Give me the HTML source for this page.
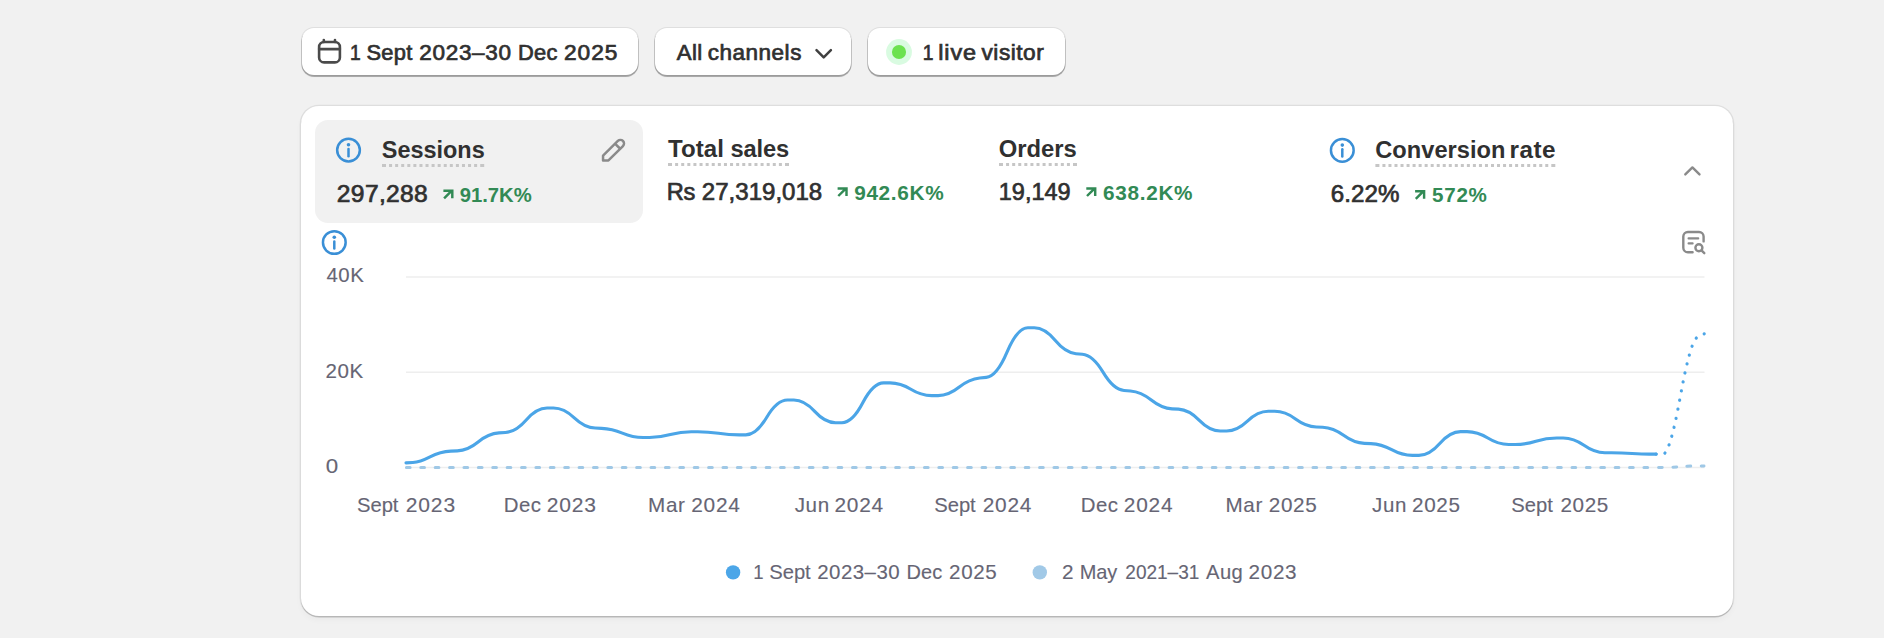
<!DOCTYPE html>
<html lang="en"><head><meta charset="utf-8"><title>Analytics</title>
<style>
html,body{margin:0;padding:0}
body{width:1884px;height:638px;background:#f1f1f1;position:relative;overflow:hidden;font-family:"Liberation Sans",sans-serif}
main,section,header,nav,button,figure,figcaption,ul,li,h2,p,.w{display:contents;margin:0;padding:0;font:inherit;list-style:none}
.t{position:absolute;white-space:nowrap;line-height:1.149;transform-origin:0 0}
.btn{position:absolute;top:28px;height:47px;background:#fff;border-radius:12px;box-shadow:0 0 0 1px rgba(0,0,0,.075),0 1.5px 0 .5px rgba(0,0,0,.26),0 2px 1.5px 0 rgba(0,0,0,.06)}
.card{position:absolute;left:301px;top:106px;width:1432px;height:510px;background:#fff;border-radius:18px;box-shadow:0 0 0 1.3px rgba(0,0,0,.065),0 0 3px 0 rgba(0,0,0,.04),0 1.5px 0 0 rgba(0,0,0,.15),0 4px 6px rgba(0,0,0,.03)}
.sel{position:absolute;left:315px;top:120px;width:328px;height:103px;background:#f1f1f1;border-radius:13px}
.ov{position:absolute;left:0;top:0}
.g{position:static}
</style></head><body>
<main>
<nav class="toolbar">
<button type="button"><span class="btn" style="left:302px;width:336px"></span><span class="g" style="font-size:21.50px;color:#303030;-webkit-text-stroke:0.70px #303030;"><span class="t" style="left:349px;top:41.00px;transform:translateX(0.90px) scaleX(0.8952);">1</span> <span class="t" style="left:366px;top:41.00px;transform:translateX(0.50px) scaleX(1.0165);letter-spacing:0.26px;">Sept</span> <span class="t" style="left:419px;top:41.00px;transform:translateX(0.35px) scaleX(1.0470);letter-spacing:0.64px;">2023–30</span> <span class="t" style="left:517px;top:41.00px;transform:translateX(0.95px) scaleX(1.0163);letter-spacing:0.27px;">Dec</span> <span class="t" style="left:564px;top:41.00px;transform:translateX(0.05px) scaleX(1.0556);letter-spacing:0.88px;">2025</span></span></button>
<button type="button"><span class="btn" style="left:655px;width:196px"></span><span class="g" style="font-size:21.50px;color:#303030;-webkit-text-stroke:0.70px #303030;"><span class="t" style="left:676px;top:41.00px;transform:translateX(0.70px) scaleX(1.0313);letter-spacing:0.39px;">All</span> <span class="t" style="left:707px;top:41.00px;transform:translateX(0.80px) scaleX(1.0446);letter-spacing:0.50px;">channels</span></span></button>
<button type="button"><span class="btn" style="left:868px;width:197px"></span><span class="g" style="font-size:21.50px;color:#303030;-webkit-text-stroke:0.70px #303030;"><span class="t" style="left:922px;top:41.00px;transform:translateX(0.75px) scaleX(0.8952);">1</span> <span class="t" style="left:938px;top:41.00px;transform:translateX(0.20px) scaleX(1.0911);letter-spacing:0.81px;">live</span> <span class="t" style="left:981px;top:41.00px;transform:translateX(0.50px) scaleX(1.0542);letter-spacing:0.49px;">visitor</span></span></button>
</nav>
<section class="metrics-card">
<div class="card"></div>
<div class="sel"></div>
<svg class="ov" width="1884" height="638" viewBox="0 0 1884 638">
<path d="M406 277.0 H1704.5" stroke="#eeeeee" stroke-width="1.6" fill="none"/>
<path d="M406 372.2 H1704.5" stroke="#eeeeee" stroke-width="1.6" fill="none"/>
<path d="M406 467.5 H1704.5" stroke="#eeeeee" stroke-width="1.6" fill="none"/>
<path d="M406.4 467.5 H1656 C1680 467.5 1680 465.9 1704 465.9" stroke="#9fc8e6" stroke-width="3" stroke-dasharray="3.7 10.69" stroke-linecap="round" fill="none"/>
<path d="M406.00 462.90 L412.85 462.56 Q419.70 462.22 430.04 456.89 L430.04 456.89 Q440.38 451.56 450.88 451.13 L457.28 450.87 Q467.78 450.44 478.12 441.97 L478.12 441.97 Q488.46 433.50 498.96 432.89 L505.37 432.51 Q515.87 431.90 526.20 419.95 L526.20 419.95 Q536.54 408.00 547.04 408.00 L553.45 408.00 Q563.95 408.00 574.29 417.83 L574.29 417.83 Q584.62 427.65 595.12 428.07 L601.53 428.33 Q612.03 428.75 622.37 433.12 L622.37 433.12 Q632.70 437.50 643.20 437.50 L649.61 437.50 Q660.11 437.50 670.45 434.60 L670.45 434.60 Q680.79 431.70 691.29 431.70 L697.69 431.70 Q708.19 431.70 718.53 433.30 L718.53 433.30 Q728.87 434.90 739.37 434.90 L745.77 434.90 Q756.27 434.90 766.61 417.45 L766.61 417.45 Q776.95 400.00 787.45 400.00 L793.86 400.00 Q804.36 400.00 814.69 411.35 L814.69 411.35 Q825.03 422.70 835.53 422.70 L841.94 422.70 Q852.44 422.70 862.77 402.80 L862.77 402.80 Q873.11 382.90 883.61 382.90 L890.02 382.90 Q900.52 382.90 910.86 389.25 L910.86 389.25 Q921.19 395.60 931.69 395.60 L938.10 395.60 Q948.60 395.60 958.94 387.28 L958.94 387.28 Q969.27 378.96 979.77 377.99 L986.18 377.41 Q996.68 376.44 1007.02 352.12 L1007.02 352.12 Q1017.36 327.80 1027.86 327.80 L1034.26 327.80 Q1044.76 327.80 1055.10 340.32 L1055.10 340.32 Q1065.44 352.83 1075.94 353.73 L1082.34 354.27 Q1092.84 355.17 1103.18 372.42 L1103.18 372.42 Q1113.52 389.68 1124.02 390.46 L1130.43 390.94 Q1140.93 391.72 1151.26 399.99 L1151.26 399.99 Q1161.60 408.25 1172.10 408.83 L1178.51 409.17 Q1189.01 409.75 1199.34 420.37 L1199.34 420.37 Q1209.68 431.00 1220.18 431.00 L1226.59 431.00 Q1237.09 431.00 1247.43 421.15 L1247.43 421.15 Q1257.76 411.30 1268.26 411.30 L1274.67 411.30 Q1285.17 411.30 1295.51 418.90 L1295.51 418.90 Q1305.84 426.50 1316.34 426.96 L1322.75 427.24 Q1333.25 427.70 1343.59 435.34 L1343.59 435.34 Q1353.93 442.98 1364.43 443.38 L1370.83 443.62 Q1381.33 444.02 1391.67 449.71 L1391.67 449.71 Q1402.01 455.40 1412.51 455.40 L1418.91 455.40 Q1429.41 455.40 1439.75 443.50 L1439.75 443.50 Q1450.09 431.60 1460.59 431.60 L1467.00 431.60 Q1477.50 431.60 1487.83 438.05 L1487.83 438.05 Q1498.17 444.50 1508.67 444.50 L1515.08 444.50 Q1525.58 444.50 1535.91 441.25 L1535.91 441.25 Q1546.25 438.00 1556.75 438.00 L1563.16 438.00 Q1573.66 438.00 1584.00 445.35 L1584.00 445.35 Q1594.33 452.70 1604.83 452.78 L1611.24 452.82 Q1621.74 452.90 1632.08 453.50 L1632.08 453.50 Q1642.42 454.10 1649.27 454.10 L1656.12 454.10" stroke="#4ba5e7" stroke-width="3.1" stroke-linecap="round" stroke-linejoin="round" fill="none"/>
<path d="M1656.12 454.10 L1662.97 454.10 Q1669.82 454.10 1680.16 397.38 L1680.16 397.38 Q1690.50 340.66 1697.35 337.23 L1704.20 333.80" stroke="#4ba5e7" stroke-width="3.2" pathLength="15" stroke-dasharray="0.01 0.99" stroke-dashoffset="0.005" stroke-linecap="round" fill="none"/>
<g fill="none" stroke="#3a8fd6" stroke-width="2.5"><circle cx="348.5" cy="150.1" r="11.35"/></g><circle cx="348.5" cy="144.8" r="1.8" fill="#3a8fd6"/><path d="M348.5 149.0 V156.2" stroke="#3a8fd6" stroke-width="2.5" stroke-linecap="round" fill="none"/>
<g fill="none" stroke="#3a8fd6" stroke-width="2.5"><circle cx="1342.3" cy="150.4" r="11.35"/></g><circle cx="1342.3" cy="145.1" r="1.8" fill="#3a8fd6"/><path d="M1342.3 149.3 V156.5" stroke="#3a8fd6" stroke-width="2.5" stroke-linecap="round" fill="none"/>
<g fill="none" stroke="#3a8fd6" stroke-width="2.5"><circle cx="334.3" cy="242.5" r="11.35"/></g><circle cx="334.3" cy="237.2" r="1.8" fill="#3a8fd6"/><path d="M334.3 241.4 V248.6" stroke="#3a8fd6" stroke-width="2.5" stroke-linecap="round" fill="none"/>
<path d="M444.1 198.4 L451.8 190.7 M443.4 190.8 H452.3 V198.3" fill="none" stroke="#328a55" stroke-width="2.45" stroke-linejoin="miter"/>
<path d="M838.3 196.0 L846.0 188.3 M837.6 188.5 H846.5 V195.9" fill="none" stroke="#328a55" stroke-width="2.45" stroke-linejoin="miter"/>
<path d="M1087.0 196.0 L1094.7 188.3 M1086.3 188.5 H1095.2 V195.9" fill="none" stroke="#328a55" stroke-width="2.45" stroke-linejoin="miter"/>
<path d="M1415.8 198.8 L1423.5 191.1 M1415.1 191.2 H1424.1 V198.7" fill="none" stroke="#328a55" stroke-width="2.45" stroke-linejoin="miter"/>
<rect x="382.00" y="164.0" width="4" height="3" fill="#c6c6c6"/><rect x="389.07" y="164.0" width="3" height="3" fill="#c6c6c6"/><rect x="395.15" y="164.0" width="3" height="3" fill="#c6c6c6"/><rect x="401.22" y="164.0" width="3" height="3" fill="#c6c6c6"/><rect x="407.30" y="164.0" width="3" height="3" fill="#c6c6c6"/><rect x="413.37" y="164.0" width="3" height="3" fill="#c6c6c6"/><rect x="419.45" y="164.0" width="3" height="3" fill="#c6c6c6"/><rect x="425.52" y="164.0" width="3" height="3" fill="#c6c6c6"/><rect x="431.60" y="164.0" width="3" height="3" fill="#c6c6c6"/><rect x="437.67" y="164.0" width="3" height="3" fill="#c6c6c6"/><rect x="443.75" y="164.0" width="3" height="3" fill="#c6c6c6"/><rect x="449.82" y="164.0" width="3" height="3" fill="#c6c6c6"/><rect x="455.90" y="164.0" width="3" height="3" fill="#c6c6c6"/><rect x="461.97" y="164.0" width="3" height="3" fill="#c6c6c6"/><rect x="468.05" y="164.0" width="3" height="3" fill="#c6c6c6"/><rect x="474.12" y="164.0" width="3" height="3" fill="#c6c6c6"/><rect x="480.20" y="164.0" width="4" height="3" fill="#c6c6c6"/>
<rect x="668.00" y="163.0" width="4" height="3" fill="#c6c6c6"/><rect x="675.11" y="163.0" width="3" height="3" fill="#c6c6c6"/><rect x="681.21" y="163.0" width="3" height="3" fill="#c6c6c6"/><rect x="687.32" y="163.0" width="3" height="3" fill="#c6c6c6"/><rect x="693.42" y="163.0" width="3" height="3" fill="#c6c6c6"/><rect x="699.53" y="163.0" width="3" height="3" fill="#c6c6c6"/><rect x="705.63" y="163.0" width="3" height="3" fill="#c6c6c6"/><rect x="711.74" y="163.0" width="3" height="3" fill="#c6c6c6"/><rect x="717.84" y="163.0" width="3" height="3" fill="#c6c6c6"/><rect x="723.95" y="163.0" width="3" height="3" fill="#c6c6c6"/><rect x="730.05" y="163.0" width="3" height="3" fill="#c6c6c6"/><rect x="736.16" y="163.0" width="3" height="3" fill="#c6c6c6"/><rect x="742.26" y="163.0" width="3" height="3" fill="#c6c6c6"/><rect x="748.37" y="163.0" width="3" height="3" fill="#c6c6c6"/><rect x="754.47" y="163.0" width="3" height="3" fill="#c6c6c6"/><rect x="760.58" y="163.0" width="3" height="3" fill="#c6c6c6"/><rect x="766.68" y="163.0" width="3" height="3" fill="#c6c6c6"/><rect x="772.79" y="163.0" width="3" height="3" fill="#c6c6c6"/><rect x="778.89" y="163.0" width="3" height="3" fill="#c6c6c6"/><rect x="785.00" y="163.0" width="4" height="3" fill="#c6c6c6"/>
<rect x="999.00" y="163.0" width="4" height="3" fill="#c6c6c6"/><rect x="1006.08" y="163.0" width="3" height="3" fill="#c6c6c6"/><rect x="1012.17" y="163.0" width="3" height="3" fill="#c6c6c6"/><rect x="1018.25" y="163.0" width="3" height="3" fill="#c6c6c6"/><rect x="1024.33" y="163.0" width="3" height="3" fill="#c6c6c6"/><rect x="1030.42" y="163.0" width="3" height="3" fill="#c6c6c6"/><rect x="1036.50" y="163.0" width="3" height="3" fill="#c6c6c6"/><rect x="1042.58" y="163.0" width="3" height="3" fill="#c6c6c6"/><rect x="1048.67" y="163.0" width="3" height="3" fill="#c6c6c6"/><rect x="1054.75" y="163.0" width="3" height="3" fill="#c6c6c6"/><rect x="1060.83" y="163.0" width="3" height="3" fill="#c6c6c6"/><rect x="1066.92" y="163.0" width="3" height="3" fill="#c6c6c6"/><rect x="1073.00" y="163.0" width="4" height="3" fill="#c6c6c6"/>
<rect x="1375.40" y="164.0" width="4" height="3" fill="#c6c6c6"/><rect x="1382.43" y="164.0" width="3" height="3" fill="#c6c6c6"/><rect x="1388.46" y="164.0" width="3" height="3" fill="#c6c6c6"/><rect x="1394.49" y="164.0" width="3" height="3" fill="#c6c6c6"/><rect x="1400.52" y="164.0" width="3" height="3" fill="#c6c6c6"/><rect x="1406.56" y="164.0" width="3" height="3" fill="#c6c6c6"/><rect x="1412.59" y="164.0" width="3" height="3" fill="#c6c6c6"/><rect x="1418.62" y="164.0" width="3" height="3" fill="#c6c6c6"/><rect x="1424.65" y="164.0" width="3" height="3" fill="#c6c6c6"/><rect x="1430.68" y="164.0" width="3" height="3" fill="#c6c6c6"/><rect x="1436.71" y="164.0" width="3" height="3" fill="#c6c6c6"/><rect x="1442.74" y="164.0" width="3" height="3" fill="#c6c6c6"/><rect x="1448.77" y="164.0" width="3" height="3" fill="#c6c6c6"/><rect x="1454.80" y="164.0" width="3" height="3" fill="#c6c6c6"/><rect x="1460.83" y="164.0" width="3" height="3" fill="#c6c6c6"/><rect x="1466.87" y="164.0" width="3" height="3" fill="#c6c6c6"/><rect x="1472.90" y="164.0" width="3" height="3" fill="#c6c6c6"/><rect x="1478.93" y="164.0" width="3" height="3" fill="#c6c6c6"/><rect x="1484.96" y="164.0" width="3" height="3" fill="#c6c6c6"/><rect x="1490.99" y="164.0" width="3" height="3" fill="#c6c6c6"/><rect x="1497.02" y="164.0" width="3" height="3" fill="#c6c6c6"/><rect x="1503.05" y="164.0" width="3" height="3" fill="#c6c6c6"/><rect x="1509.08" y="164.0" width="3" height="3" fill="#c6c6c6"/><rect x="1515.11" y="164.0" width="3" height="3" fill="#c6c6c6"/><rect x="1521.14" y="164.0" width="3" height="3" fill="#c6c6c6"/><rect x="1527.18" y="164.0" width="3" height="3" fill="#c6c6c6"/><rect x="1533.21" y="164.0" width="3" height="3" fill="#c6c6c6"/><rect x="1539.24" y="164.0" width="3" height="3" fill="#c6c6c6"/><rect x="1545.27" y="164.0" width="3" height="3" fill="#c6c6c6"/><rect x="1551.30" y="164.0" width="4" height="3" fill="#c6c6c6"/>
<circle cx="733.1" cy="572.4" r="7.2" fill="#4ca6e8"/><circle cx="1039.8" cy="572.4" r="7.2" fill="#a1c9e7"/>
<circle cx="899" cy="52" r="12.9" fill="#d9fbe1"/><circle cx="899" cy="52" r="7.05" fill="#6be24f"/>
<path d="M816.5 50.2 L823.7 57.4 L830.9 50.2" fill="none" stroke="#404040" stroke-width="2.5" stroke-linecap="round" stroke-linejoin="round"/>
<path d="M1685.3 174.4 L1692.4 167.4 L1699.5 174.4" fill="none" stroke="#8a8a8a" stroke-width="2.4" stroke-linecap="round" stroke-linejoin="round"/>
<g fill="none" stroke="#4a4a4a" stroke-width="2.6" stroke-linecap="round" stroke-linejoin="round"><rect x="319.1" y="42" width="20.8" height="20.4" rx="5"/><path d="M319.1 49.1 H339.9 M323.8 40 V42 M335 40 V42"/></g>
<g fill="none" stroke="#8a8a8a" stroke-width="2.5" stroke-linejoin="round"><path d="M603.05 160.45 V155.55 L617.85 140.95 A3.6 3.6 0 0 1 622.95 146.05 L608.45 160.45 Z M615 143.6 L620.15 148.75"/></g>
<g fill="none" stroke="#8a8a8a" stroke-width="2.4" stroke-linecap="round" stroke-linejoin="round"><path d="M1692.6 252.3 H1687.9 A4.6 4.6 0 0 1 1683.3 247.7 V236.6 A4.6 4.6 0 0 1 1687.9 232 H1699 A4.6 4.6 0 0 1 1703.6 236.6 V241.4"/><path d="M1688.6 238.4 H1698.2 M1688.6 243.4 H1692.6" stroke-width="2.2"/><circle cx="1698.9" cy="247.8" r="3.5"/><path d="M1701.5 250.4 L1704.3 253.2"/></g>
</svg>
<header class="metrics">
<div class="w metric selected"><h2><span class="g" style="font-size:23.50px;color:#303030;font-weight:700;"><span class="t" style="left:381px;top:137.16px;transform:translateX(0.75px) scaleX(0.9966);letter-spacing:0.01px;">Sessions</span></span></h2><p><span class="g" style="font-size:24.00px;color:#303030;-webkit-text-stroke:0.70px #303030;"><span class="t" style="left:336px;top:180.00px;transform:translateX(0.85px) scaleX(1.0249);letter-spacing:0.33px;">297,288</span></span> <span class="g" style="font-size:19.80px;color:#328a55;font-weight:700;"><span class="t" style="left:459px;top:183.86px;transform:translateX(0.75px) scaleX(1.0231);letter-spacing:-0.02px;">91.7K%</span></span></p></div>
<div class="w metric"><h2><span class="g" style="font-size:23.50px;color:#303030;font-weight:700;"><span class="t" style="left:667px;top:136.06px;transform:translateX(0.95px) scaleX(1.0238);letter-spacing:0.06px;">Total</span> <span class="t" style="left:730px;top:136.06px;transform:translateX(0.45px) scaleX(1.0070);letter-spacing:-0.10px;">sales</span></span></h2><p><span class="g" style="font-size:24.00px;color:#303030;-webkit-text-stroke:0.70px #303030;"><span class="t" style="left:666px;top:177.60px;transform:translateX(0.70px) scaleX(0.9854);letter-spacing:-0.36px;">Rs</span> <span class="t" style="left:701px;top:177.60px;transform:translateX(0.85px) scaleX(1.0021);">27,319,018</span></span> <span class="g" style="font-size:19.80px;color:#328a55;font-weight:700;"><span class="t" style="left:854px;top:182.26px;transform:translateX(0.15px) scaleX(1.0511);letter-spacing:0.64px;">942.6K%</span></span></p></div>
<div class="w metric"><h2><span class="g" style="font-size:23.50px;color:#303030;font-weight:700;"><span class="t" style="left:998px;top:136.06px;transform:translateX(0.70px) scaleX(1.0113);letter-spacing:0.03px;">Orders</span></span></h2><p><span class="g" style="font-size:24.00px;color:#303030;-webkit-text-stroke:0.70px #303030;"><span class="t" style="left:998px;top:177.60px;transform:translateX(0.75px) scaleX(0.9776);letter-spacing:0.02px;">19,149</span></span> <span class="g" style="font-size:19.80px;color:#328a55;font-weight:700;"><span class="t" style="left:1103px;top:182.26px;transform:translateX(0.05px) scaleX(1.0492);letter-spacing:0.65px;">638.2K%</span></span></p></div>
<div class="w metric"><h2><span class="g" style="font-size:23.50px;color:#303030;font-weight:700;"><span class="t" style="left:1375px;top:137.06px;transform:translateX(0.30px) scaleX(1.0047);letter-spacing:0.02px;">Conversion</span> <span class="t" style="left:1509px;top:137.06px;transform:translateX(0.60px) scaleX(1.0336);letter-spacing:0.40px;">rate</span></span></h2><p><span class="g" style="font-size:24.00px;color:#303030;-webkit-text-stroke:0.70px #303030;"><span class="t" style="left:1330px;top:179.60px;transform:translateX(0.85px) scaleX(1.0060);letter-spacing:0.02px;">6.22%</span></span> <span class="g" style="font-size:19.80px;color:#328a55;font-weight:700;"><span class="t" style="left:1432px;top:184.46px;transform:translateX(0.05px) scaleX(1.0409);letter-spacing:0.70px;">572%</span></span></p></div>
</header>
<figure class="chart">
<ul class="y-axis"><li><span class="g" style="font-size:19.80px;color:#666574;-webkit-text-stroke:0.12px #666574;"><span class="t" style="left:326px;top:263.66px;transform:translateX(0.55px) scaleX(1.0304);letter-spacing:0.44px;">40K</span></span></li><li><span class="g" style="font-size:19.80px;color:#666574;-webkit-text-stroke:0.12px #666574;"><span class="t" style="left:325px;top:360.46px;transform:translateX(0.40px) scaleX(1.0387);letter-spacing:0.65px;">20K</span></span></li><li><span class="g" style="font-size:19.80px;color:#666574;-webkit-text-stroke:0.12px #666574;"><span class="t" style="left:325px;top:455.46px;transform:translateX(0.65px) scaleX(1.1291);">0</span></span></li></ul>
<ul class="x-axis"><li><span class="g" style="font-size:19.80px;color:#666574;-webkit-text-stroke:0.12px #666574;"><span class="t" style="left:357px;top:493.76px;transform:translateX(0.00px) scaleX(1.0213);letter-spacing:-0.03px;">Sept</span> <span class="t" style="left:405px;top:493.76px;transform:translateX(0.65px) scaleX(1.0627);letter-spacing:0.85px;">2023</span></span></li><li><span class="g" style="font-size:19.80px;color:#666574;-webkit-text-stroke:0.12px #666574;"><span class="t" style="left:503px;top:493.76px;transform:translateX(0.84px) scaleX(1.0323);letter-spacing:0.41px;">Dec</span> <span class="t" style="left:546px;top:493.76px;transform:translateX(0.69px) scaleX(1.0624);letter-spacing:0.77px;">2023</span></span></li><li><span class="g" style="font-size:19.80px;color:#666574;-webkit-text-stroke:0.12px #666574;"><span class="t" style="left:647px;top:493.76px;transform:translateX(0.98px) scaleX(1.0439);letter-spacing:0.67px;">Mar</span> <span class="t" style="left:691px;top:493.76px;transform:translateX(0.23px) scaleX(1.0544);letter-spacing:0.74px;">2024</span></span></li><li><span class="g" style="font-size:19.80px;color:#666574;-webkit-text-stroke:0.12px #666574;"><span class="t" style="left:794px;top:493.76px;transform:translateX(0.67px) scaleX(1.0410);letter-spacing:0.60px;">Jun</span> <span class="t" style="left:834px;top:493.76px;transform:translateX(0.42px) scaleX(1.0547);letter-spacing:0.74px;">2024</span></span></li><li><span class="g" style="font-size:19.80px;color:#666574;-webkit-text-stroke:0.12px #666574;"><span class="t" style="left:934px;top:493.76px;transform:translateX(0.26px) scaleX(1.0213);letter-spacing:-0.03px;">Sept</span> <span class="t" style="left:982px;top:493.76px;transform:translateX(0.71px) scaleX(1.0544);letter-spacing:0.74px;">2024</span></span></li><li><span class="g" style="font-size:19.80px;color:#666574;-webkit-text-stroke:0.12px #666574;"><span class="t" style="left:1080px;top:493.76px;transform:translateX(0.74px) scaleX(1.0323);letter-spacing:0.41px;">Dec</span> <span class="t" style="left:1123px;top:493.76px;transform:translateX(0.84px) scaleX(1.0544);letter-spacing:0.74px;">2024</span></span></li><li><span class="g" style="font-size:19.80px;color:#666574;-webkit-text-stroke:0.12px #666574;"><span class="t" style="left:1225px;top:493.76px;transform:translateX(0.38px) scaleX(1.0442);letter-spacing:0.67px;">Mar</span> <span class="t" style="left:1268px;top:493.76px;transform:translateX(0.83px) scaleX(1.0459);letter-spacing:0.59px;">2025</span></span></li><li><span class="g" style="font-size:19.80px;color:#666574;-webkit-text-stroke:0.12px #666574;"><span class="t" style="left:1372px;top:493.76px;transform:translateX(0.07px) scaleX(1.0369);letter-spacing:0.60px;">Jun</span> <span class="t" style="left:1412px;top:493.76px;transform:translateX(0.02px) scaleX(1.0459);letter-spacing:0.59px;">2025</span></span></li><li><span class="g" style="font-size:19.80px;color:#666574;-webkit-text-stroke:0.12px #666574;"><span class="t" style="left:1511px;top:493.76px;transform:translateX(0.26px) scaleX(1.0213);letter-spacing:0.05px;">Sept</span> <span class="t" style="left:1560px;top:493.76px;transform:translateX(0.46px) scaleX(1.0459);letter-spacing:0.59px;">2025</span></span></li></ul>
<figcaption><ul class="legend"><li><span class="g" style="font-size:19.80px;color:#666574;-webkit-text-stroke:0.12px #666574;"><span class="t" style="left:753px;top:560.86px;transform:translateX(0.25px) scaleX(0.9398);">1</span> <span class="t" style="left:769px;top:560.86px;transform:translateX(0.25px) scaleX(1.0213);letter-spacing:-0.03px;">Sept</span> <span class="t" style="left:817px;top:560.86px;transform:translateX(0.30px) scaleX(1.0338);letter-spacing:0.43px;">2023–30</span> <span class="t" style="left:906px;top:560.86px;transform:translateX(0.50px) scaleX(1.0121);letter-spacing:0.05px;">Dec</span> <span class="t" style="left:949px;top:560.86px;transform:translateX(0.10px) scaleX(1.0400);letter-spacing:0.59px;">2025</span></span></li><li><span class="g" style="font-size:19.80px;color:#666574;-webkit-text-stroke:0.12px #666574;"><span class="t" style="left:1062px;top:560.86px;transform:translateX(0.00px) scaleX(1.0492);">2</span> <span class="t" style="left:1079px;top:560.86px;transform:translateX(0.70px) scaleX(1.0097);letter-spacing:-0.05px;">May</span> <span class="t" style="left:1125px;top:560.86px;transform:translateX(0.35px) scaleX(0.9628);letter-spacing:-0.03px;">2021–31</span> <span class="t" style="left:1206px;top:560.86px;transform:translateX(0.10px) scaleX(1.0219);letter-spacing:0.37px;">Aug</span> <span class="t" style="left:1248px;top:560.86px;transform:translateX(0.60px) scaleX(1.0456);letter-spacing:0.61px;">2023</span></span></li></ul></figcaption>
</figure>
</section>
</main>
</body></html>
